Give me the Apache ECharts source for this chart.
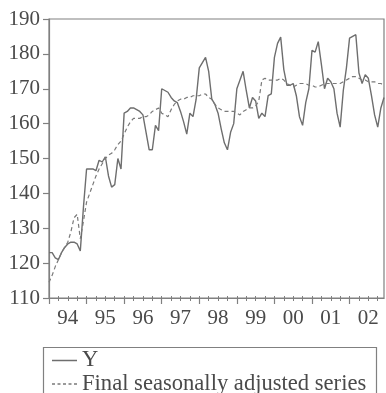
<!DOCTYPE html>
<html>
<head>
<meta charset="utf-8">
<script src="https://cdn.jsdelivr.net/npm/echarts@6/dist/echarts.min.js"></script>
<style>
  html, body { margin: 0; padding: 0; background: #ffffff; }
  #chart { width: 386px; height: 393px; }
</style>
</head>
<body>
<div id="chart"></div>
<script>
// Monthly observations 1994M01 .. 2002M12
const months = [];
for (let y = 1994; y <= 2002; y++) {
  for (let m = 1; m <= 12; m++) months.push(y + 'M' + (m < 10 ? '0' + m : m));
}
const yearLabels = ['94', '95', '96', '97', '98', '99', '00', '01', '02'];

const seriesY = [
  123, 123, 121.5, 121, 123, 124.5, 125.5, 126, 126, 125.5, 123.5, 136,
  147, 147, 147, 146.5, 149.5, 149, 150.5, 145, 141.8, 142.5, 150, 147,
  163, 163.5, 164.5, 164.5, 164, 163.5, 162.5, 157.5, 152.5, 152.5, 159.5, 158,
  170, 169.5, 169, 167.5, 166.5, 166, 163.5, 160.5, 157, 163, 162, 167,
  176, 177.5, 179, 175, 167, 165.5, 163, 158.5, 154.5, 152.5, 157.5, 160,
  170, 172.5, 175, 169.5, 164.5, 167.5, 166.5, 161.5, 163, 162, 168, 168.5,
  179, 183, 184.8, 175.5, 171, 171, 171.5, 168, 162, 159.5, 166, 170,
  181, 180.5, 183.5, 177, 170, 173, 172, 170, 163, 159, 169.5, 176,
  184.5, 185, 185.5, 174.5, 171.5, 174, 173, 168, 162.5, 159, 164.5, 167.5
];

const seriesSA = [
  114.5, 116.5, 119, 121, 123, 124.5, 126, 129, 133, 134, 127, 132,
  137.5, 140, 142.5, 145, 147, 148.5, 150, 151, 151.5, 152.5, 154, 155,
  157, 159, 160.5, 161.5, 161.5, 161.5, 162, 162, 162.5, 163.5, 164, 164.5,
  163, 162.5, 162, 164, 165.5, 166.5, 167, 167, 167.5, 167.5, 168, 168,
  168, 168.5, 168.5, 167.5, 167, 165.5, 164.5, 164, 163.5, 163.5, 163.5, 163.5,
  163, 162.5, 163.5, 164, 164.5, 164.5, 165, 166.5, 172.5, 173, 172.5, 172.5,
  172.5, 172.5, 173, 172.5, 171.5, 171, 170.5, 171, 171.5, 171.5, 171.5, 171,
  171, 170.5, 170.5, 171, 171.5, 171.5, 171.5, 171.5, 171.5, 171.5, 172, 172.5,
  173, 173.5, 173.5, 173, 172.5, 172.5, 172, 172, 172, 171.5, 171.5, 171
];

const FONT = 'Liberation Serif';
const TEXT = '#4a4a4a';
const LINE = '#808080';
const SOLID_ICON = 'path://M0,0h25v1.5h-25z';
const DASH_ICON = 'path://M0,0h3v1.5h-3zM5.5,0h3v1.5h-3zM11,0h3v1.5h-3zM16.5,0h3v1.5h-3zM22,0h3v1.5h-3z';

const chart = echarts.init(document.getElementById('chart'), null, { renderer: 'canvas' });

const baseX = {
  type: 'category',
  data: months,
  boundaryGap: false,
  position: 'bottom',
  gridIndex: 0,
  splitLine: { show: false }
};

chart.setOption({
  animation: false,
  backgroundColor: '#ffffff',
  grid: {
    left: 49, right: 2, top: 19, bottom: 95,
    show: true, borderColor: LINE, borderWidth: 1.2, backgroundColor: 'transparent'
  },
  xAxis: [
    Object.assign({}, baseX, {
      axisLine: { show: true, lineStyle: { color: LINE, width: 1.2 } },
      axisTick: { show: true, inside: false, length: 3, interval: (i) => i % 3 === 0,
                  lineStyle: { color: LINE, width: 1 } },
      axisLabel: {
        show: true,
        interval: (i) => i % 12 === 6,
        formatter: (v, i) => yearLabels[Math.floor(i / 12)],
        color: TEXT, fontFamily: FONT, fontSize: 21, margin: 10
      }
    }),
    Object.assign({}, baseX, {
      axisLine: { show: false },
      axisTick: { show: true, inside: true, length: 2, interval: (i) => i % 3 === 0,
                  lineStyle: { color: LINE, width: 1 } },
      axisLabel: { show: false }
    }),
    Object.assign({}, baseX, {
      axisLine: { show: false },
      axisTick: { show: true, inside: false, length: 6, interval: (i) => i % 12 === 0,
                  lineStyle: { color: LINE, width: 1.2 } },
      axisLabel: { show: false }
    })
  ],
  yAxis: {
    type: 'value',
    min: 110, max: 190, interval: 10,
    axisLine: { show: true, lineStyle: { color: LINE, width: 1.2 } },
    axisTick: { show: true, inside: false, length: 6, lineStyle: { color: LINE, width: 1.2 } },
    axisLabel: { color: TEXT, fontFamily: FONT, fontSize: 21, margin: 9 },
    splitLine: { show: false }
  },
  legend: {
    orient: 'vertical',
    left: 52, top: 349, height: 80, width: 330,
    padding: 0,
    itemWidth: 25, itemHeight: 2, itemGap: 0.5,
    textStyle: { color: TEXT, fontFamily: FONT, fontSize: 22.6 },
    data: [
      { name: 'Y', icon: SOLID_ICON, itemStyle: { color: '#6e6e6e' } },
      { name: 'Final seasonally adjusted series', icon: DASH_ICON, itemStyle: { color: '#7a7a7a' } }
    ]
  },
  graphic: [{
    type: 'rect',
    shape: { x: 43.5, y: 347.5, width: 333, height: 60 },
    style: { fill: 'none', stroke: LINE, lineWidth: 1.2 },
    silent: true
  }],
  series: [
    {
      name: 'Y', type: 'line', data: seriesY, xAxisIndex: 0,
      symbol: 'none', smooth: false,
      lineStyle: { color: '#6e6e6e', width: 1.4, type: 'solid' },
      itemStyle: { color: '#6e6e6e' }
    },
    {
      name: 'Final seasonally adjusted series', type: 'line', data: seriesSA, xAxisIndex: 0,
      symbol: 'none', smooth: false,
      lineStyle: { color: '#7a7a7a', width: 1.2, type: [4, 3] },
      itemStyle: { color: '#7a7a7a' }
    }
  ]
});
</script>
</body>
</html>
